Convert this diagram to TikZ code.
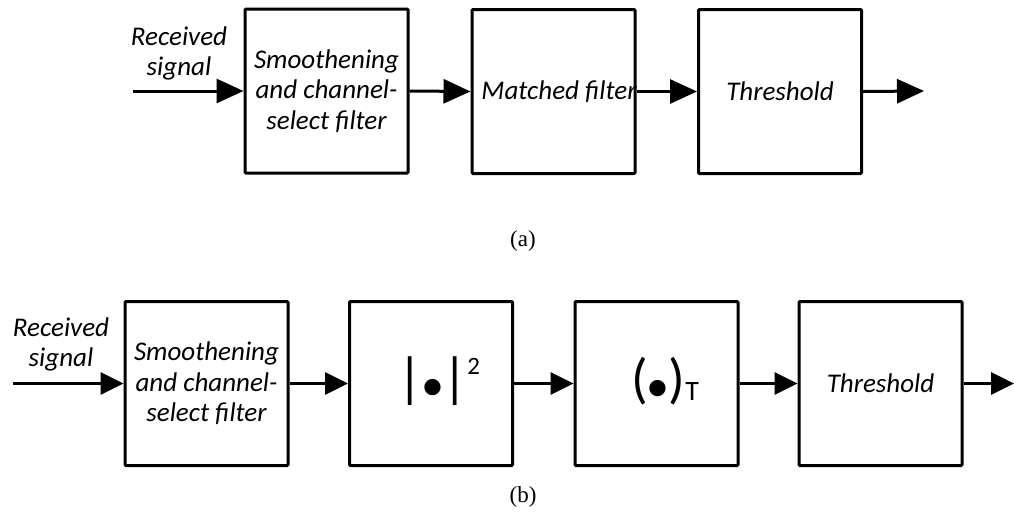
\documentclass[tikz,border=0pt]{standalone}
\usepackage{fontspec}
\setmainfont{Carlito}
\newfontfamily\capfont{Liberation Serif}
\usetikzlibrary{arrows.meta}
\newcommand{\bigsz}{\fontsize{55}{60}\selectfont}
\newcommand{\dotsz}{\fontsize{46}{48}\selectfont}
\begin{document}
\begin{tikzpicture}[x=1pt,y=-1pt,
  blk/.style={draw,line width=3pt,rounded corners=1pt,minimum width=163pt,minimum height=164pt,inner sep=0pt,align=center,
    font=\fontsize{27}{30.5}\selectfont\itshape},
  lbl/.style={inner sep=0pt,align=center,font=\fontsize{27}{30}\selectfont\itshape},
  mtxt/.style={inner sep=0pt},
  captxt/.style={inner sep=0pt,font=\fontsize{23}{26}\selectfont\capfont},
  biga/.style={line width=3pt,-{Triangle[length=27pt,width=24pt]}},
  smla/.style={line width=3pt,-{Triangle[length=23pt,width=22pt]}}]
\useasboundingbox (0,0) rectangle (1014,512);

% (a) matched-filter receiver
\node[blk] (a1) at (326.5,91) {Smoothening\\and channel-\\select filter};
\node[blk] (a2) at (553.5,91.5) {};
\node[lbl] (a2t) at (559,92) {Matched filter};
\node[blk] (a3) at (780,91.5) {Threshold};
\node[lbl] (ain) at (179,53) {Received\\signal};
\coordinate (as) at (133,91);
\coordinate (ae) at (924,91);
\draw[biga] (as) -- (a1.west);
\draw[biga] (a1.east) -- (a2.west);
\draw[biga] (a2.east) -- (a3.west);
\draw[biga] (a3.east) -- (ae);
\node[captxt] (capa) at (523,241) {(a)};

% (b) energy detector
\node[blk] (b1) at (206.5,383.5) {Smoothening\\and channel-\\select filter};
\node[blk] (b2) at (431,383.5) {};
\node[mtxt] (b2t) at (439,381) {\bigsz|\kern-2pt\raisebox{-4pt}{\dotsz•}\kern-2pt|\raisebox{22pt}{\fontsize{25}{26}\selectfont 2}};
\node[blk] (b3) at (656.5,383.5) {};
\node[mtxt] (b3t) at (665,381) {\bigsz(\kern-1pt\raisebox{-4pt}{\dotsz•}\kern-1pt)\raisebox{-3pt}{\fontsize{28}{30}\selectfont T}};
\node[blk] (b4) at (880.5,383.5) {Threshold};
\node[lbl] (bin) at (61,344) {Received\\signal};
\coordinate (bs) at (13,383.5);
\coordinate (be) at (1014,383.5);
\draw[smla] (bs) -- (b1.west);
\draw[smla] (b1.east) -- (b2.west);
\draw[smla] (b2.east) -- (b3.west);
\draw[smla] (b3.east) -- (b4.west);
\draw[smla] (b4.east) -- (be);
\node[captxt] (capb) at (523,497) {(b)};
\end{tikzpicture}
\end{document}
